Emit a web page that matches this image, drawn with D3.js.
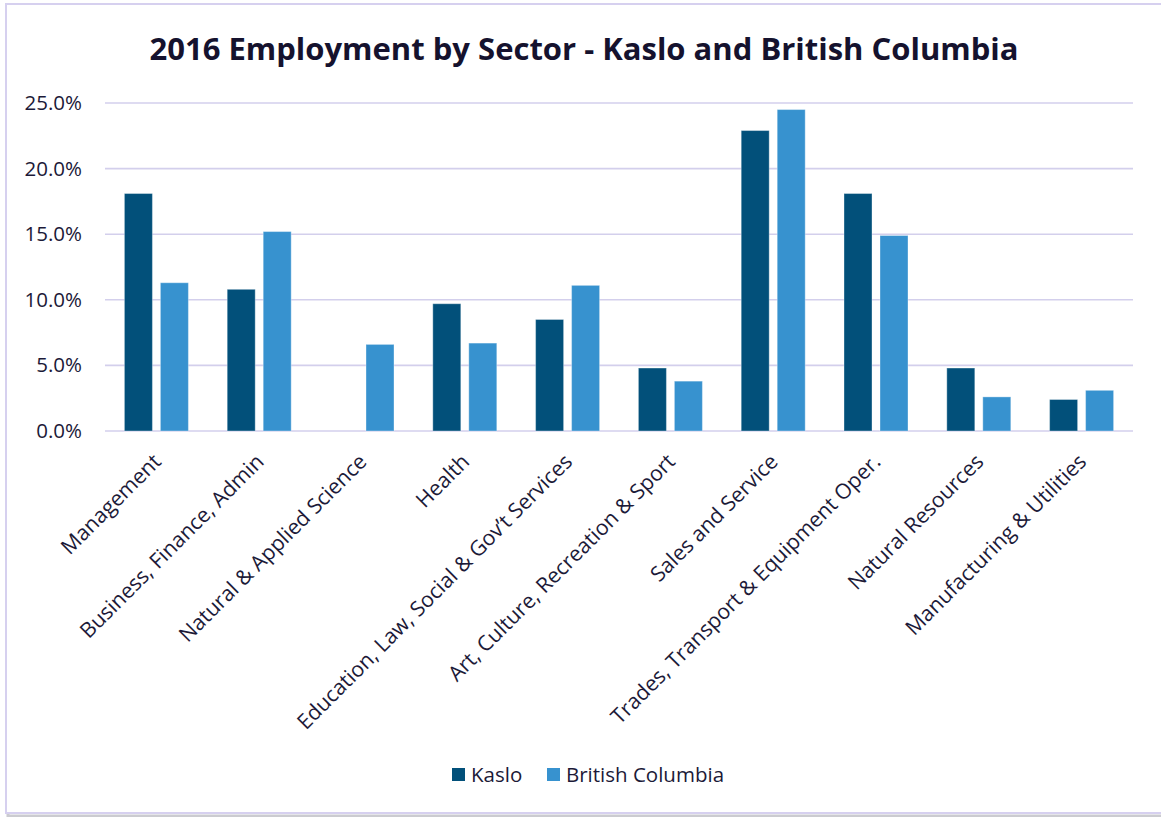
<!DOCTYPE html>
<html>
<head>
<meta charset="utf-8">
<script src="https://cdn.jsdelivr.net/npm/d3@7"></script>
<style>
    body { margin: 0; background: #fff; }
    svg { display: block; }
</style>
</head>
<body>
<svg id="chart" width="1161" height="817"></svg>
<script>
const categories = [
    "Management",
    "Business, Finance, Admin",
    "Natural & Applied Science",
    "Health",
    "Education, Law, Social & Gov\u2019t Services",
    "Art, Culture, Recreation & Sport",
    "Sales and Service",
    "Trades, Transport & Equipment Oper.",
    "Natural Resources",
    "Manufacturing & Utilities"
];

const seriesNames = ["Kaslo", "British Columbia"];

const kasloValues = [18.1, 10.8, 0, 9.7, 8.5, 4.8, 22.9, 18.1, 4.8, 2.4];
const bcValues = [11.3, 15.2, 6.6, 6.7, 11.1, 3.8, 24.5, 14.9, 2.6, 3.1];

const yTicks = [0, 5, 10, 15, 20, 25];

const colors = {
    "Kaslo": "#02507a",
    "British Columbia": "#3792cf"
};

const textColor = "#1c1a38";
const gridColor = "#d3cfec";
const font = "'Open Sans', sans-serif";

let data = categories.map((c, i) => ({
    category: c,
    "Kaslo": kasloValues[i],
    "British Columbia": bcValues[i]
}));

let svg = d3.select("#chart"),
    margin = {top: 103, right: 28, bottom: 386, left: 105},
    width = +svg.attr("width") - margin.left - margin.right,
    height = +svg.attr("height") - margin.top - margin.bottom;

// chart frame (drawn first so it sits behind everything)
svg.append("rect")
    .attr("x", 8).attr("y", 6)
    .attr("width", 1170).attr("height", 810)
    .attr("fill", "none")
    .attr("stroke", "#a9a9b0")
    .attr("stroke-width", 3)
    .attr("opacity", 0.6);
svg.append("rect")
    .attr("x", 6).attr("y", 4)
    .attr("width", 1170).attr("height", 809)
    .attr("fill", "#fff")
    .attr("stroke", "#d6d0ef")
    .attr("stroke-width", 2);

let g = svg.append("g").attr("transform", "translate(" + margin.left + "," + margin.top + ")");

svg.append("text")
    .attr("x", 584)
    .attr("y", 60)
    .attr("text-anchor", "middle")
    .attr("fill", "#15122e")
    .style("font", "bold 31px " + font)
    .text("2016 Employment by Sector - Kaslo and British Columbia");

let x0 = d3.scaleBand()
    .domain(categories)
    .range([0, width]);

let x1 = d3.scaleBand()
    .domain(seriesNames)
    .range([0, x0.bandwidth()])
    .paddingInner(0.222)
    .paddingOuter(0.539);

let y = d3.scaleLinear()
    .domain([0, 25])
    .range([height, 0]);

// gridlines
g.append("g")
    .selectAll("line")
    .data(yTicks)
    .enter().append("line")
    .attr("x1", 0)
    .attr("x2", width)
    .attr("y1", d => y(d))
    .attr("y2", d => y(d))
    .attr("stroke", gridColor)
    .attr("stroke-width", 1.6);

// y axis labels
let yAxis = g.append("g")
    .call(d3.axisLeft(y).tickValues(yTicks).tickSize(0).tickPadding(23).tickFormat(d => d.toFixed(1) + "%"));
yAxis.select(".domain").remove();
yAxis.selectAll("text")
    .attr("fill", textColor)
    .style("font", "20.5px " + font);

// bars
let groups = g.selectAll(".cat")
    .data(data)
    .enter().append("g")
    .attr("class", "cat")
    .attr("transform", d => "translate(" + x0(d.category) + ",0)");

groups.selectAll("rect")
    .data(d => seriesNames.map(k => ({key: k, value: d[k]})))
    .enter().append("rect")
    .attr("x", d => x1(d.key))
    .attr("y", d => y(d.value))
    .attr("width", x1.bandwidth())
    .attr("height", d => y(0) - y(d.value))
    .attr("fill", d => colors[d.key])
    .attr("stroke", d => d.value > 0 ? "rgba(255,255,255,0.35)" : "none")
    .attr("stroke-width", 1);

// x axis labels
let xAxis = g.append("g")
    .attr("transform", "translate(0," + height + ")")
    .call(d3.axisBottom(x0).tickSize(0).tickPadding(0));
xAxis.select(".domain").remove();
xAxis.selectAll("text")
    .attr("fill", textColor)
    .style("font", "21.2px " + font)
    .attr("text-anchor", "end")
    .attr("dy", "0")
    .attr("transform", "translate(6,32) rotate(-45)");

// legend
let legend = svg.append("g")
    .attr("transform", "translate(452,768)");
let legendPos = [0, 95];
seriesNames.forEach((s, i) => {
    legend.append("rect")
        .attr("x", legendPos[i])
        .attr("y", 0)
        .attr("width", 13)
        .attr("height", 13)
        .attr("fill", colors[s]);
    legend.append("text")
        .attr("x", legendPos[i] + 19)
        .attr("y", 13.5)
        .attr("fill", textColor)
        .style("font", "20.5px " + font)
        .text(s);
});
</script>
</body>
</html>
